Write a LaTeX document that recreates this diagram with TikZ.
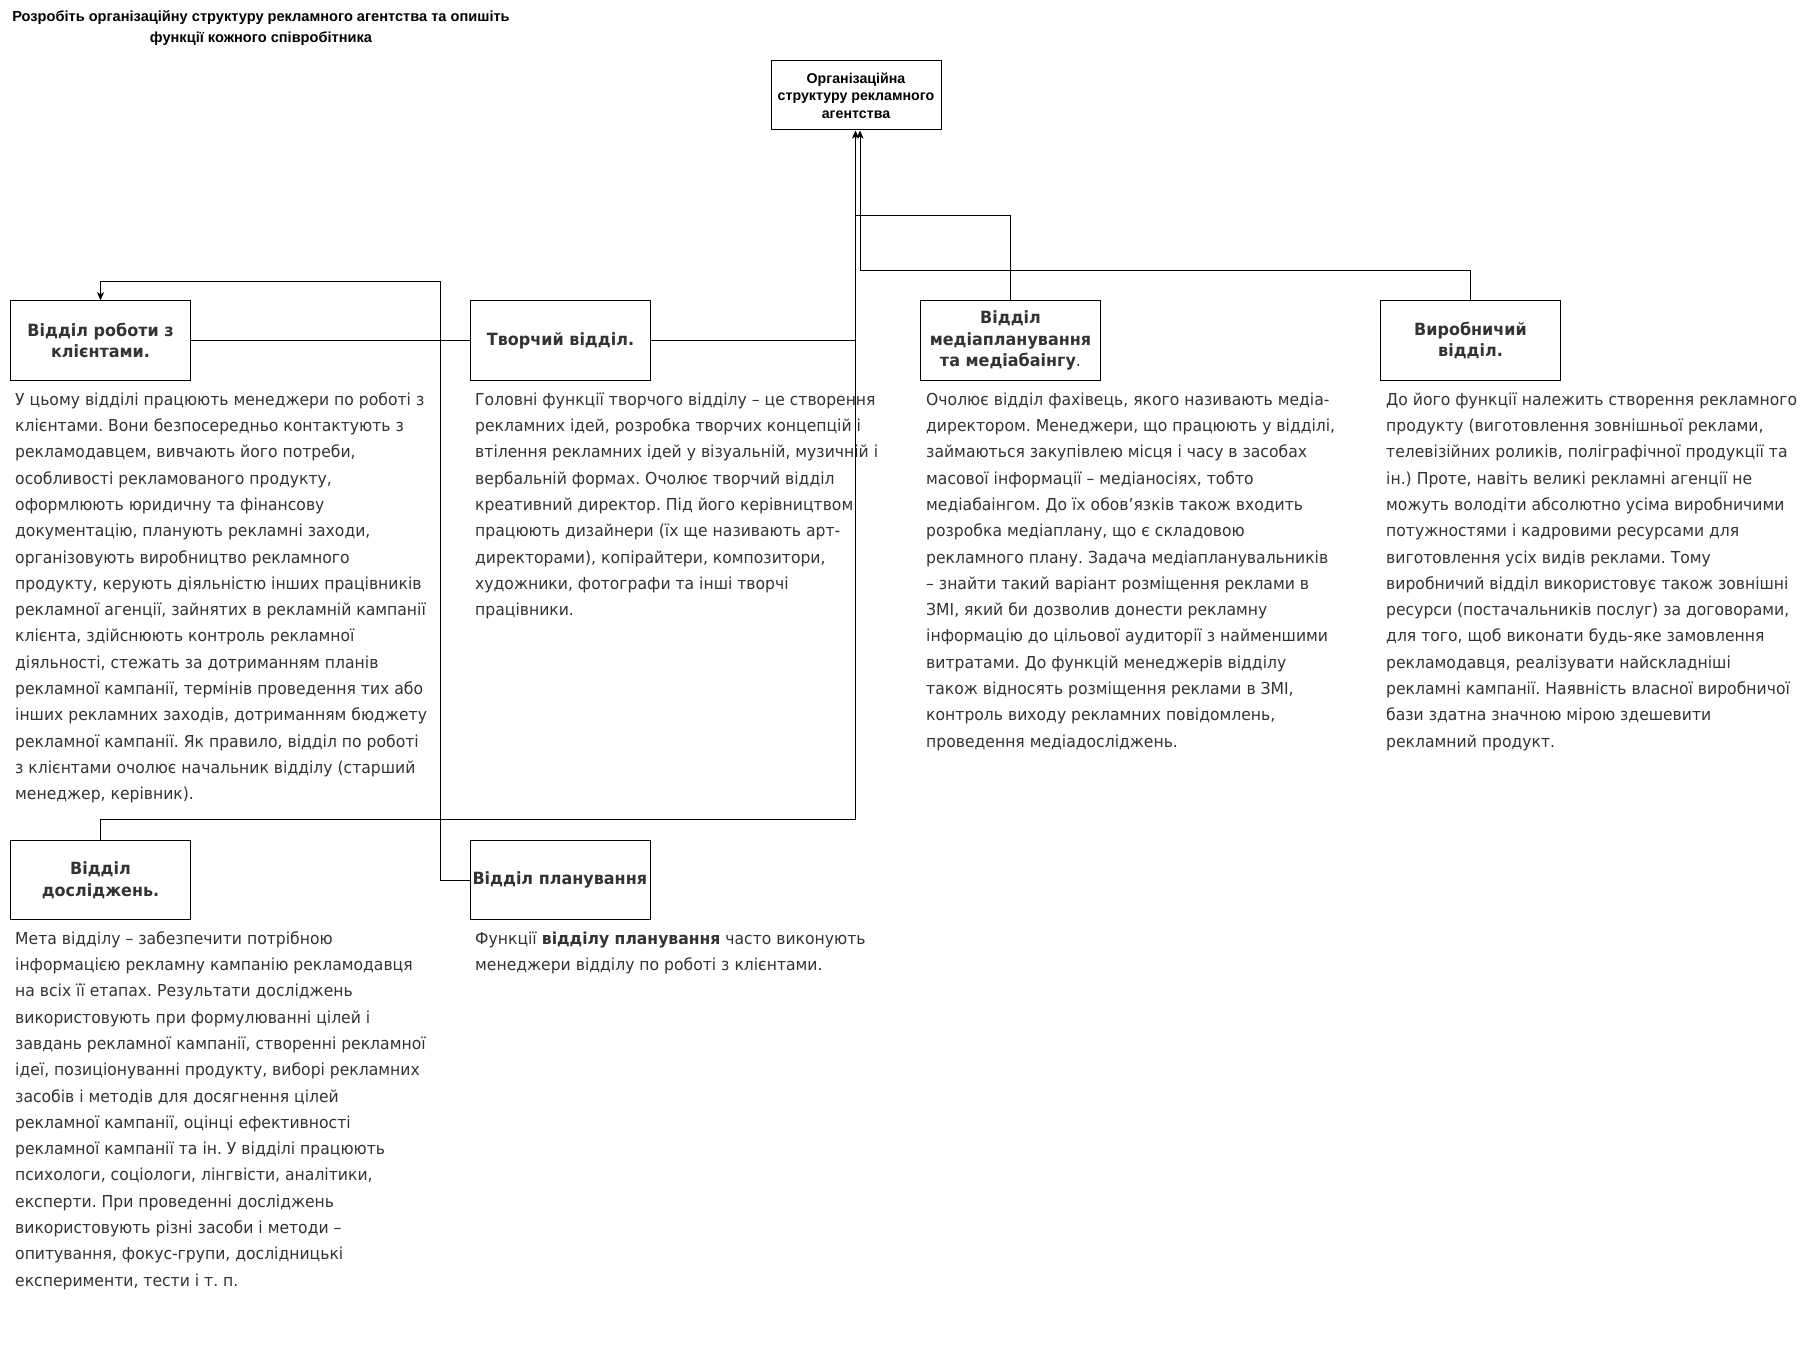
\documentclass[tikz,border=0pt]{standalone}
\usepackage{fontspec}
\setmainfont{Liberation Sans}
\newfontfamily\tahoma[FakeStretch=0.946]{DejaVu Sans}
\usetikzlibrary{arrows.meta}
\definecolor{txt}{HTML}{333333}
\frenchspacing
\begin{document}
\frenchspacing
\begin{tikzpicture}[x=1pt,y=-1pt,
  box/.style={draw=black, line width=1pt, minimum width=180pt, minimum height=79.5pt, inner sep=2pt, align=center, text=txt, font=\tahoma\bfseries\fontsize{16.9}{21.8}\selectfont},
  body/.style={anchor=north west, inner sep=0pt, align=left, text=txt, font=\tahoma\fontsize{16.5}{26.3}\selectfont},
  link/.style={draw=black, line width=1pt},
  arr/.style={link, -{Stealth[length=8pt,width=7pt,inset=2pt]}}]
\useasboundingbox (0,0) rectangle (1801,1351);
\fill[white] (0,0) rectangle (1801,1351);

\node[anchor=north, inner sep=0pt, align=center, font=\bfseries\fontsize{14.6}{21}\selectfont] (title) at (261,6) {\rule{0pt}{15pt}Розробіть організаційну структуру рекламного агентства та опишіть\\функції кожного співробітника};

\node[box, minimum width=170pt, minimum height=69pt, text=black, font=\bfseries\fontsize{14.2}{17.3}\selectfont] (top) at (856,95.5) {Організаційна\\структуру рекламного\\агентства};

\node[box] (b1) at (100.5,340.5) {Відділ роботи з\\клієнтами.};
\node[box] (b2) at (560.5,340.5) {Творчий відділ.};
\node[box] (b3) at (1010.5,340.5) {Відділ\\медіапланування\\та медіабаінгу{\mdseries .}};
\node[box] (b4) at (1470.5,340.5) {Виробничий\\відділ.};
\node[box] (b5) at (100.5,880) {Відділ\\досліджень.};
\node[box, text width=176pt, align=left] (b6) at (560.5,880) {Відділ планування};

\node[body] (t1) at (15,388) {\rule{0pt}{17pt}У цьому відділі працюють менеджери по роботі з\\
клієнтами. Вони безпосередньо контактують з\\
рекламодавцем, вивчають його потреби,\\
особливості рекламованого продукту,\\
оформлюють юридичну та фінансову\\
документацію, планують рекламні заходи,\\
організовують виробництво рекламного\\
продукту, керують діяльністю інших працівників\\
рекламної агенції, зайнятих в рекламній кампанії\\
клієнта, здійснюють контроль рекламної\\
діяльності, стежать за дотриманням планів\\
рекламної кампанії, термінів проведення тих або\\
інших рекламних заходів, дотриманням бюджету\\
рекламної кампанії. Як правило, відділ по роботі\\
з клієнтами очолює начальник відділу (старший\\
менеджер, керівник).};

\node[body] (t2) at (475,388) {\rule{0pt}{17pt}Головні функції творчого відділу – це створення\\
рекламних ідей, розробка творчих концепцій і\\
втілення рекламних ідей у візуальній, музичній і\\
вербальній формах. Очолює творчий відділ\\
креативний директор. Під його керівництвом\\
працюють дизайнери (їх ще називають арт-\\
директорами), копірайтери, композитори,\\
художники, фотографи та інші творчі\\
працівники.};

\node[body] (t3) at (926,388) {\rule{0pt}{17pt}Очолює відділ фахівець, якого називають медіа-\\
директором. Менеджери, що працюють у відділі,\\
займаються закупівлею місця і часу в засобах\\
масової інформації – медіаносіях, тобто\\
медіабаінгом. До їх обов’язків також входить\\
розробка медіаплану, що є складовою\\
рекламного плану. Задача медіапланувальників\\
– знайти такий варіант розміщення реклами в\\
ЗМІ, який би дозволив донести рекламну\\
інформацію до цільової аудиторії з найменшими\\
витратами. До функцій менеджерів відділу\\
також відносять розміщення реклами в ЗМІ,\\
контроль виходу рекламних повідомлень,\\
проведення медіадосліджень.};

\node[body] (t4) at (1386,388) {\rule{0pt}{17pt}До його функції належить створення рекламного\\
продукту (виготовлення зовнішньої реклами,\\
телевізійних роликів, поліграфічної продукції та\\
ін.) Проте, навіть великі рекламні агенції не\\
можуть володіти абсолютно усіма виробничими\\
потужностями і кадровими ресурсами для\\
виготовлення усіх видів реклами. Тому\\
виробничий відділ використовує також зовнішні\\
ресурси (постачальників послуг) за договорами,\\
для того, щоб виконати будь-яке замовлення\\
рекламодавця, реалізувати найскладніші\\
рекламні кампанії. Наявність власної виробничої\\
бази здатна значною мірою здешевити\\
рекламний продукт.};

\node[body] (t5) at (15,927) {\rule{0pt}{17pt}Мета відділу – забезпечити потрібною\\
інформацією рекламну кампанію рекламодавця\\
на всіх її етапах. Результати досліджень\\
використовують при формулюванні цілей і\\
завдань рекламної кампанії, створенні рекламної\\
ідеї, позиціонуванні продукту, виборі рекламних\\
засобів і методів для досягнення цілей\\
рекламної кампанії, оцінці ефективності\\
рекламної кампанії та ін. У відділі працюють\\
психологи, соціологи, лінгвісти, аналітики,\\
експерти. При проведенні досліджень\\
використовують різні засоби і методи –\\
опитування, фокус-групи, дослідницькі\\
експерименти, тести і т. п.};

\node[body] (t6) at (475,927) {\rule{0pt}{17pt}Функції \textbf{відділу планування} часто виконують\\
менеджери відділу по роботі з клієнтами.};

\coordinate (tA) at ([xshift=-0.5pt]top.south);
\coordinate (tB) at ([xshift=4pt]top.south);
\coordinate (j3) at (855.5,216);

\draw[arr] (b5.north) -- ++(0,-20) -| (tA);
\draw[link] (b2.east) -- (b2.east -| tA);
\draw[link] (b1.east) -- (b2.west);
\draw[link] (b3.north) |- (j3);
\draw[arr] (b4.north) -- ++(0,-30) -| (tB);
\draw[arr] (b6.west) -- ++(-30,0) -- ++(0,-599) -| (b1.north);
\end{tikzpicture}
\end{document}
